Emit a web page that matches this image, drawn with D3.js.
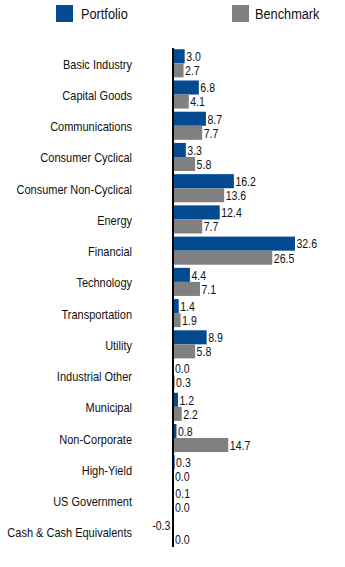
<!DOCTYPE html>
<html><head><meta charset="utf-8">
<script src="https://cdn.jsdelivr.net/npm/d3@7"></script>
<style>body{margin:0;background:#fff}svg{display:block}text{font-family:"Liberation Sans",Arial,sans-serif;fill:#111}</style>
</head><body>
<script>
const categories = ["Basic Industry","Capital Goods","Communications","Consumer Cyclical","Consumer Non-Cyclical","Energy","Financial","Technology","Transportation","Utility","Industrial Other","Municipal","Non-Corporate","High-Yield","US Government","Cash & Cash Equivalents"];
const portfolio = [3.0,6.8,8.7,3.3,16.2,12.4,32.6,4.4,1.4,8.9,0.0,1.2,0.8,0.3,0.1,-0.3];
const benchmark = [2.7,4.1,7.7,5.8,13.6,7.7,26.5,7.1,1.9,5.8,0.3,2.2,14.7,0.0,0.0,0.0];
const seriesNames = ["Portfolio","Benchmark"];
const colors = ["#034a91","#808083"];

const W=345,H=567;
const svg=d3.select("body").append("svg").attr("width",W).attr("height",H);
const x=d3.scaleLinear().domain([0,32.6]).range([173.5,295]);
const y=d3.scaleBand().domain(categories).range([48,547]).paddingInner(0.1).paddingOuter(0.04);
const sub=d3.scaleBand().domain(seriesNames).range([0,y.bandwidth()]);

function txt(parent,tx,ty,str,size,anchor){
  return parent.append("text").attr("transform",`translate(${tx},${ty}) scale(0.88,1)`)
    .attr("dy","0.36em").attr("text-anchor",anchor||"start").attr("font-size",size+"px").text(str);
}

const data=categories.map((c,i)=>({c,vals:[portfolio[i],benchmark[i]]}));
const g=svg.append("g");
data.forEach(d=>{
  d.vals.forEach((v,j)=>{
    const yy=y(d.c)+sub(seriesNames[j]);
    const x0=x(Math.min(0,v)), x1=x(Math.max(0,v));
    g.append("rect").attr("x",x0).attr("y",yy).attr("width",Math.max(0,x1-x0)).attr("height",sub.bandwidth()).attr("fill",colors[j]);
    const neg=v<0;
    txt(g, neg? x(v)-2 : x(v)+1.5, yy+sub.bandwidth()/2+0.5, v.toFixed(1), 12, neg?"end":"start");
  });
  txt(g,132,y(d.c)+y.bandwidth()/2+1,d.c,12.5,"end");
});
svg.append("line").attr("x1",173).attr("x2",173).attr("y1",48).attr("y2",547).attr("stroke","#000").attr("stroke-width",2);

const leg=[{x:56,tx:81},{x:232,tx:255}];
seriesNames.forEach((s,j)=>{
  svg.append("rect").attr("x",leg[j].x).attr("y",5).attr("width",17).attr("height",17).attr("fill",colors[j]);
  txt(svg,leg[j].tx,14,s,14.5,"start");
});
</script>
</body></html>
